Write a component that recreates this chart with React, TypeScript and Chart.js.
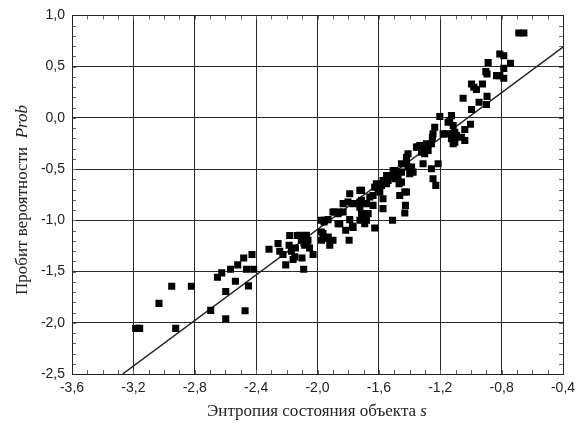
import React, { useEffect, useRef } from "react";
import { Chart, registerables } from "chart.js";

Chart.register(...registerables);

const xTickValues = [-3.6, -3.2, -2.8, -2.4, -2.0, -1.6, -1.2, -0.8, -0.4];
const yTickValues = [-2.5, -2.0, -1.5, -1.0, -0.5, 0.0, 0.5, 1.0];

const xTitleMain = "Энтропия состояния объекта ";
const xTitleItalic = "s";
const yTitleMain = "Пробит вероятности  ";
const yTitleItalic = "Prob";

const entropyS = [
  -3.185, -3.159, -2.924, -3.033, -2.95, -2.822, -2.696, -2.598, -2.598, -2.652,
  -2.624, -2.567, -2.535, -2.52, -2.481, -2.472, -2.45, -2.463, -2.416, -2.427,
  -2.316, -2.257, -2.246, -2.225, -2.185, -2.17, -2.159, -2.207, -2.144, -2.181,
  -2.131, -2.101, -2.083, -2.088, -2.068, -2.052, -2.029, -2.101, -2.09, -1.957,
  -1.964, -1.942, -2.148, -2.116, -2.062, -1.974, -1.92, -1.899, -1.974, -1.931,
  -1.866, -1.866, -1.833, -1.801, -1.79, -1.816, -1.794, -1.772, -1.887, -1.855,
  -1.724, -1.713, -1.724, -1.681, -1.67, -1.681, -1.627, -1.659, -1.638, -1.627,
  -1.605, -1.594, -1.616, -1.573, -1.55, -1.54, -1.518, -1.507, -1.496, -1.475,
  -1.511, -1.468, -1.464, -1.42, -1.427, -1.431, -1.453, -1.42, -1.41, -1.387,
  -1.377, -1.399, -1.355, -1.333, -1.312, -1.301, -1.312, -1.257, -1.247, -1.229,
  -1.214, -1.29, -1.247, -1.236, -1.181, -1.149, -1.116, -1.105, -1.127, -0.688,
  -0.655, -0.812, -0.786, -0.888, -0.742, -0.786, -0.812, -0.833, -0.786, -0.903,
  -0.895, -0.996, -0.981, -0.964, -0.925, -1.051, -0.895, -0.947, -0.899, -0.996,
  -1.203, -1.127, -1.138, -1.116, -1.003, -1.251, -1.159, -1.105, -1.094, -1.04,
  -1.116, -1.062, -1.04, -1.322, -1.257, -1.279, -1.42, -1.41, -1.431, -1.453,
  -1.583, -1.573, -1.638, -1.713, -1.724, -1.692, -1.79, -1.768, -1.855, -1.833,
  -1.713, -1.724, -1.768, -1.899, -1.953, -1.573, -1.55, -1.496, -1.453, -1.42,
  -1.344, -1.93, -1.974, -2.072, -2.105, -2.083,
];

const probitProb = [
  -2.055, -2.055, -2.055, -1.811, -1.643, -1.643, -1.879, -1.961, -1.694, -1.555,
  -1.513, -1.477, -1.594, -1.435, -1.367, -1.883, -1.64, -1.477, -1.477, -1.334,
  -1.282, -1.227, -1.302, -1.334, -1.243, -1.302, -1.383, -1.435, -1.27, -1.149,
  -1.149, -1.188, -1.156, -1.221, -1.227, -1.27, -1.334, -1.367, -1.477, -1.017,
  -1.129, -1.178, -1.357, -1.146, -1.195, -1.114, -1.243, -1.195, -1.0, -0.993,
  -1.032, -0.935, -0.837, -0.822, -0.74, -1.097, -1.195, -1.058, -0.919, -0.919,
  -0.708, -0.805, -0.871, -1.0, -0.935, -0.837, -1.075, -0.773, -0.757, -0.676,
  -0.691, -0.724, -0.643, -0.886, -0.643, -0.611, -0.562, -0.513, -0.594, -0.578,
  -1.0, -0.643, -0.757, -0.724, -0.854, -0.929, -0.448, -0.432, -0.351, -0.481,
  -0.53, -0.545, -0.286, -0.27, -0.302, -0.351, -0.448, -0.497, -0.594, -0.659,
  -0.448, -0.253, -0.156, -0.092, -0.156, -0.043, -0.156, -0.238, -0.204, 0.828,
  0.828, 0.623, 0.607, 0.541, 0.532, 0.483, 0.412, 0.412, 0.386, 0.451,
  0.428, 0.331, 0.298, 0.276, 0.331, 0.191, 0.21, 0.152, 0.13, 0.081,
  0.013, 0.022, -0.026, -0.075, -0.062, -0.189, -0.156, -0.14, -0.172, -0.114,
  -0.253, -0.189, -0.221, -0.335, -0.253, -0.318, -0.399, -0.481, -0.724, -0.627,
  -0.659, -0.789, -0.854, -0.935, -1.0, -1.032, -0.993, -1.071, -1.032, -0.919,
  -0.708, -0.822, -0.837, -0.919, -1.0, -0.611, -0.562, -0.513, -0.53, -0.384,
  -0.286, -1.163, -1.195, -1.146, -1.195, -1.243,
];

const fitS = [-3.27, -0.4];
const fitProb = [-2.5, 0.69];

const fmt = (v: number) => v.toFixed(1).replace(".", ",").replace("-0,0", "0,0");

const frameAndTitles = {
  id: "frameAndTitles",
  afterDraw(chart: any) {
    const { ctx, chartArea } = chart;
    const xs = chart.scales.x;
    const ys = chart.scales.y;
    const { left, right, top, bottom } = chartArea;
    ctx.save();
    ctx.strokeStyle = "#666";
    ctx.lineWidth = 1;
    ctx.beginPath();
    for (let i = 0; i <= 32; i++) {
      const v = -3.6 + i * 0.1;
      const px = Math.round(xs.getPixelForValue(v)) + 0.5;
      ctx.moveTo(px, bottom);
      ctx.lineTo(px, bottom - 4);
      ctx.moveTo(px, top);
      ctx.lineTo(px, top + 4);
    }
    for (let i = 0; i <= 35; i++) {
      const v = -2.5 + i * 0.1;
      const py = Math.round(ys.getPixelForValue(v)) + 0.5;
      ctx.moveTo(left, py);
      ctx.lineTo(left + 4, py);
      ctx.moveTo(right, py);
      ctx.lineTo(right - 4, py);
    }
    ctx.stroke();
    ctx.strokeStyle = "#222";
    ctx.strokeRect(Math.round(left) + 0.5, Math.round(top) + 0.5, Math.round(right - left), Math.round(bottom - top));

    ctx.fillStyle = "#222";
    ctx.textBaseline = "alphabetic";
    const fMain = '17px "Liberation Serif", "Times New Roman", serif';
    const fIt = 'italic 17px "Liberation Serif", "Times New Roman", serif';
    ctx.font = fMain;
    const w1 = ctx.measureText(xTitleMain).width;
    ctx.font = fIt;
    const w2 = ctx.measureText(xTitleItalic).width;
    const cx = 317;
    let sx = cx - (w1 + w2) / 2;
    ctx.font = fMain;
    ctx.fillText(xTitleMain, sx, 416);
    ctx.font = fIt;
    ctx.fillText(xTitleItalic, sx + w1, 416);

    ctx.translate(27, 200);
    ctx.rotate(-Math.PI / 2);
    ctx.font = fMain;
    const h1 = ctx.measureText(yTitleMain).width;
    ctx.font = fIt;
    const h2 = ctx.measureText(yTitleItalic).width;
    sx = -(h1 + h2) / 2;
    ctx.font = fMain;
    ctx.fillText(yTitleMain, sx, 0);
    ctx.font = fIt;
    ctx.fillText(yTitleItalic, sx + h1, 0);
    ctx.restore();
  },
};

export default function App() {
  const ref = useRef<HTMLCanvasElement | null>(null);

  useEffect(() => {
    if (!ref.current) return;
    const points = entropyS.map((s, i) => ({ x: s, y: probitProb[i] }));
    const fit = fitS.map((s, i) => ({ x: s, y: fitProb[i] }));
    const tickFont = { family: '"Liberation Sans", Arial, sans-serif', size: 14 };
    const chart = new Chart(ref.current, {
      type: "scatter",
      data: {
        datasets: [
          {
            type: "scatter",
            data: points,
            pointStyle: "rect",
            pointRadius: 5,
            backgroundColor: "#000",
            borderWidth: 0,
            order: 1,
          } as any,
          {
            type: "line",
            data: fit,
            borderColor: "#222",
            borderWidth: 1.5,
            pointRadius: 0,
            showLine: true,
            fill: false,
            order: 2,
          } as any,
        ],
      },
      options: {
        animation: false,
        responsive: false,
        events: [],
        layout: { padding: { top: 15, right: 21, left: 0, bottom: 0 } },
        plugins: { legend: { display: false }, tooltip: { enabled: false } },
        scales: {
          x: {
            type: "linear",
            min: -3.6,
            max: -0.4,
            afterBuildTicks: (s: any) => {
              s.ticks = xTickValues.map((v) => ({ value: v }));
            },
            afterFit: (s: any) => {
              s.height = 52;
            },
            ticks: {
              callback: (v: any) => fmt(Number(v)),
              font: tickFont,
              color: "#222",
              padding: 6,
              maxRotation: 0,
            },
            grid: { color: "#2a2a2a", lineWidth: 1, drawTicks: false },
            border: { display: true, color: "#222", width: 1 },
          },
          y: {
            type: "linear",
            min: -2.5,
            max: 1.0,
            afterBuildTicks: (s: any) => {
              s.ticks = yTickValues.map((v) => ({ value: v }));
            },
            afterFit: (s: any) => {
              s.width = 72;
            },
            ticks: {
              callback: (v: any) => fmt(Number(v)),
              font: tickFont,
              color: "#222",
              padding: 7,
            },
            grid: { color: "#2a2a2a", lineWidth: 1, drawTicks: false },
            border: { display: true, color: "#222", width: 1 },
          },
        },
      } as any,
      plugins: [frameAndTitles],
    });
    return () => chart.destroy();
  }, []);

  return (
    <div style={{ position: "absolute", left: 0, top: 0, width: 584, height: 426, background: "#fff" }}>
      <canvas ref={ref} width={584} height={426} />
    </div>
  );
}
